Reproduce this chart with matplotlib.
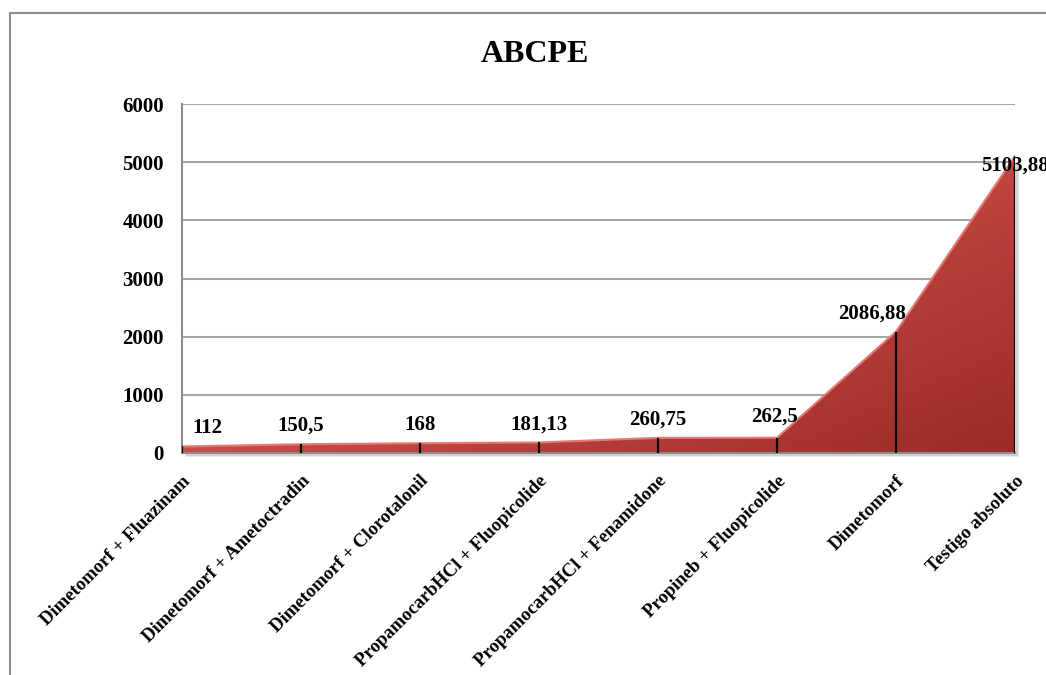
import numpy as np
import matplotlib
matplotlib.use("Agg")
import matplotlib.pyplot as plt
import matplotlib.transforms as mtransforms
from matplotlib.patches import Rectangle
from matplotlib.colors import to_rgb

# ABCPE per treatment
categories = [
    "Dimetomorf + Fluazinam",
    "Dimetomorf + Ametoctradin",
    "Dimetomorf + Clorotalonil",
    "PropamocarbHCl + Fluopicolide",
    "PropamocarbHCl + Fenamidone",
    "Propineb + Fluopicolide",
    "Dimetomorf",
    "Testigo absoluto",
]
abcpe = [112, 150.5, 168, 181.13, 260.75, 262.5, 2086.88, 5103.88]
value_labels = ["112", "150,5", "168", "181,13", "260,75", "262,5", "2086,88", "5103,88"]
yticks = [0, 1000, 2000, 3000, 4000, 5000, 6000]

# label offsets in points (dx, dy) relative to each point
label_offsets = [(18, 6), (0, 6), (0, 6), (0, 6), (0, 6), (-2, 8), (-17, 6), (0, -14)]

plt.rcParams["font.family"] = ["Liberation Serif", "DejaVu Serif"]
plt.rcParams["font.weight"] = "bold"

W, H = 1046, 675
fig = plt.figure(figsize=(W / 100, H / 100), dpi=100)
fig.patch.set_facecolor("white")

# outer chart frame
fig.patches.append(Rectangle((10 / W, -0.1), 1.2, 1 - 13 / H + 0.1,
                             transform=fig.transFigure, fill=False,
                             edgecolor="#8c8c8c", lw=1.5, zorder=0))

ax = fig.add_axes([182 / W, 1 - 453 / H, (1015 - 182) / W, (453 - 104) / H])
x = np.arange(len(categories))
y = np.array(abcpe)

ax.set_xlim(0, len(categories) - 1)
ax.set_ylim(0, 6000)
ax.set_yticks(yticks)
ax.set_yticklabels([str(v) for v in yticks], fontsize=15, fontweight="bold")
ax.yaxis.grid(True, color="#a6a6a6", lw=1.5)
ax.set_axisbelow(True)
ax.tick_params(axis="y", length=0, pad=13)

for s in ["top", "right"]:
    ax.spines[s].set_visible(False)
ax.spines["left"].set_color("#8c8c8c")
ax.spines["left"].set_linewidth(1.5)
ax.spines["bottom"].set_color("#8c8c8c")
ax.spines["bottom"].set_linewidth(1.5)

# soft shadow behind the area
shadow_tr = mtransforms.offset_copy(ax.transData, fig=fig, x=3, y=-3, units="dots")
ax.fill_between(x, y, 0, color="#7f7f7f", alpha=0.35, lw=0, transform=shadow_tr,
                zorder=1, clip_on=False)

# area with a red gradient
poly = ax.fill_between(x, y, 0, color="none", lw=0, zorder=2)
nx, ny = 400, 300
gx = np.linspace(0, len(categories) - 1, nx)
gy = np.linspace(0, 6000, ny)
GX, GY = np.meshgrid(gx, gy)
t = 0.55 * (GX / (len(categories) - 1)) + 0.45 * (1 - np.clip(GY / 5200, 0, 1))
light = np.array(to_rgb("#ee6a62"))
dark = np.array(to_rgb("#9c2a27"))
img = light[None, None, :] * (1 - t[..., None]) + dark[None, None, :] * t[..., None]
im = ax.imshow(img, extent=[0, len(categories) - 1, 0, 6000], origin="lower",
               aspect="auto", zorder=2, interpolation="bilinear")
im.set_clip_path(poly.get_paths()[0], transform=ax.transData)
ax.plot(x, y, color="#e57a74", lw=1.5, zorder=3, solid_joinstyle="round")

# drop lines
ax.vlines(x, 0, y, color="black", lw=1.6, zorder=4)

# value labels
for xi, yi, lab, (dx, dy) in zip(x, y, value_labels, label_offsets):
    ax.annotate(lab, (xi, yi), xytext=(dx, dy), textcoords="offset points",
                ha="center", va="bottom", fontsize=15, fontweight="bold",
                annotation_clip=False, zorder=5)

# category labels
ax.set_xticks(x)
ax.set_xticklabels(categories, rotation=45, ha="right", rotation_mode="anchor",
                   fontsize=13.5, fontweight="bold")
ax.tick_params(axis="x", length=0, pad=14)

fig.text(535 / W, 1 - 55 / H, "ABCPE", ha="center", va="center",
         fontsize=23, fontweight="bold")

fig.savefig("out.png", dpi=100)
